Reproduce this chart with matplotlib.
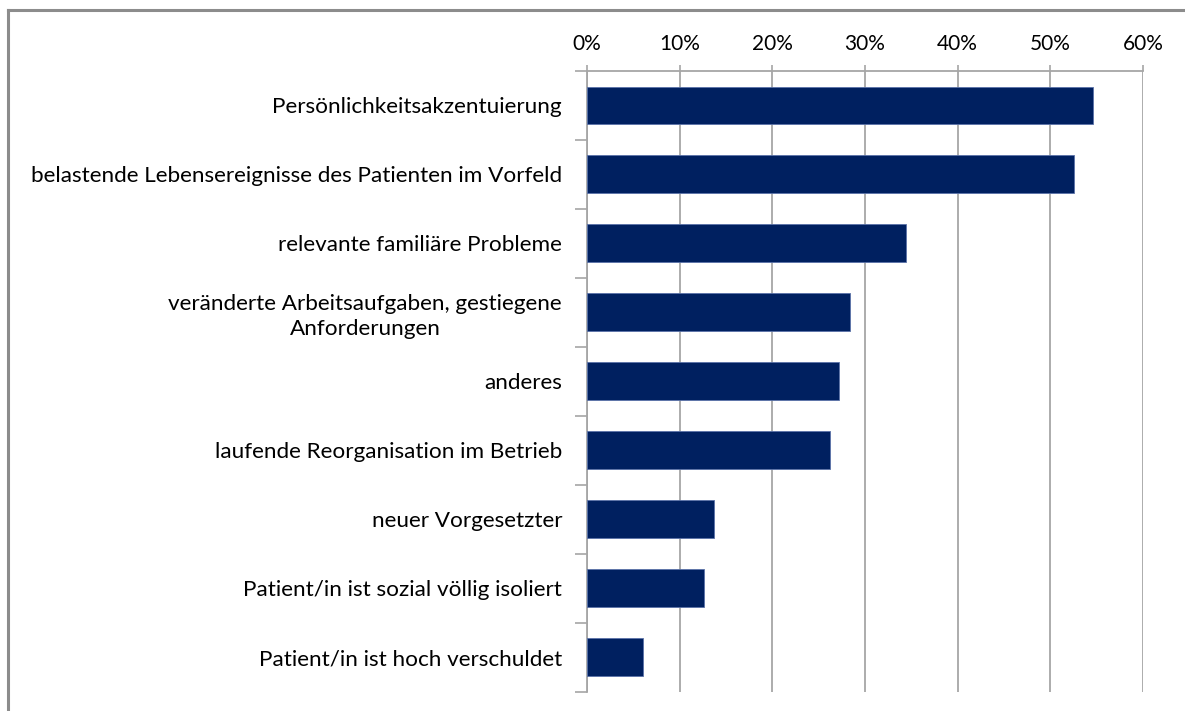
import matplotlib
matplotlib.use("Agg")
import matplotlib.pyplot as plt
from matplotlib.lines import Line2D
from matplotlib.ticker import FixedLocator, PercentFormatter

categories = [
    "Persönlichkeitsakzentuierung",
    "belastende Lebensereignisse des Patienten im Vorfeld",
    "relevante familiäre Probleme",
    "veränderte Arbeitsaufgaben, gestiegene\nAnforderungen",
    "anderes",
    "laufende Reorganisation im Betrieb",
    "neuer Vorgesetzter",
    "Patient/in ist sozial völlig isoliert",
    "Patient/in ist hoch verschuldet",
]
values = [54.6, 52.5, 34.4, 28.4, 27.2, 26.2, 13.7, 12.6, 6.0]
x_ticks = [0, 10, 20, 30, 40, 50, 60]

plt.rcParams["font.family"] = ["Lato", "DejaVu Sans"]

W, H = 1185, 711
fig = plt.figure(figsize=(W / 100, H / 100), dpi=100)
ax = fig.add_axes([587 / W, 1 - 691.5 / H, (1143 - 587) / W, (691.5 - 71) / H])

pos = list(range(len(categories)))
ax.barh(pos, values, height=0.55, color="#002060", edgecolor="#5a72a8",
        linewidth=0.6, zorder=3)

ax.set_xlim(0, 60)
ax.set_ylim(len(categories) - 0.5, -0.5)

ax.xaxis.set_major_locator(FixedLocator(x_ticks))
ax.xaxis.set_major_formatter(PercentFormatter(decimals=0))
ax.xaxis.tick_top()
ax.tick_params(axis="x", which="major", length=4, width=1.2, color="#a6a6a6",
               labelsize=15, labelcolor="#000000", pad=8.5)
ax.grid(axis="x", color="#a6a6a6", linewidth=1.3, zorder=0)

# category labels at the centres, tick marks at the boundaries
ax.yaxis.set_major_locator(FixedLocator(pos))
ax.set_yticklabels(categories, fontsize=16.2, color="#000000",
                   multialignment="center", linespacing=1.3)
ax.tick_params(axis="y", which="major", length=0, pad=18)
ax.yaxis.set_minor_locator(FixedLocator([p - 0.5 for p in pos] + [len(pos) - 0.5]))
ax.tick_params(axis="y", which="minor", length=9, width=1.2, color="#a6a6a6")

for side in ("right", "bottom"):
    ax.spines[side].set_visible(False)
for side in ("left", "top"):
    ax.spines[side].set_color("#a6a6a6")
    ax.spines[side].set_linewidth(1.3)

# outer chart frame
fig.add_artist(Line2D([8 / W, 1], [1 - 10 / H, 1 - 10 / H], color="#8c8c8c",
                      linewidth=2.2, transform=fig.transFigure))
fig.add_artist(Line2D([8 / W, 8 / W], [0, 1 - 10 / H], color="#8c8c8c",
                      linewidth=2.2, transform=fig.transFigure))

fig.savefig("out.png", dpi=100, facecolor="white")
